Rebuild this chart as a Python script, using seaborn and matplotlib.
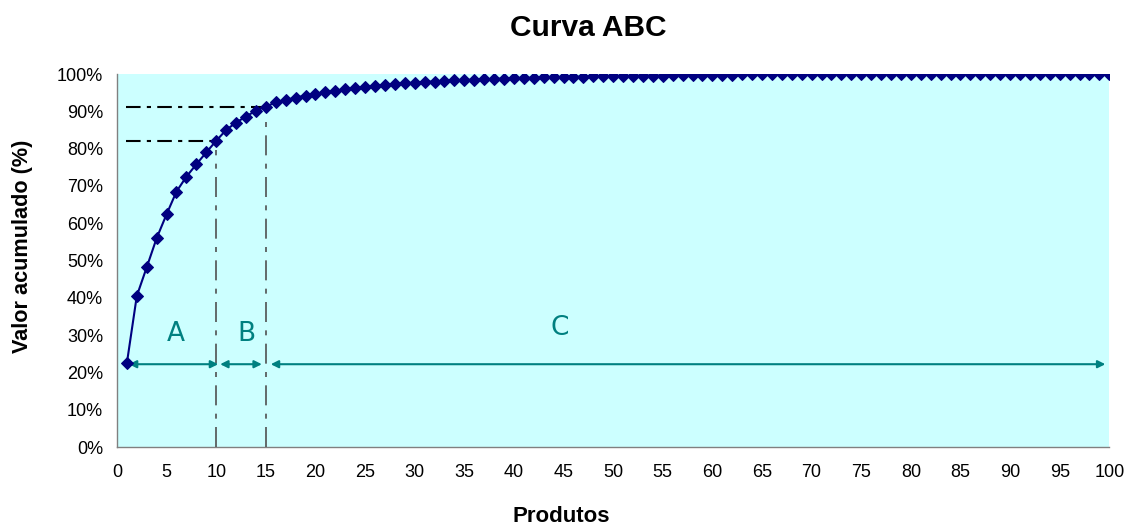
import matplotlib
matplotlib.use("Agg")
import matplotlib.pyplot as plt
import seaborn as sns
import numpy as np
import pandas as pd
from matplotlib.ticker import PercentFormatter, MultipleLocator

# ---- data ----
produtos = list(range(1, 101))
valor_acumulado = [
    22.5, 40.5, 48.2, 56.0, 62.4, 68.5, 72.5, 75.8, 79.0, 82.1,
    85.0, 87.0, 88.6, 90.2, 91.3, 92.4, 93.0, 93.7, 94.2, 94.7,
    95.1, 95.5, 95.9, 96.2, 96.5, 96.8, 97.1, 97.3, 97.5, 97.7,
    97.9, 98.0, 98.2, 98.3, 98.4, 98.5, 98.6, 98.7, 98.8, 98.9,
    99.0, 99.0, 99.1, 99.2, 99.2, 99.3, 99.3, 99.4, 99.4, 99.5,
    99.5, 99.5, 99.6, 99.6, 99.6, 99.7, 99.7, 99.7, 99.8, 99.8,
    99.8, 99.8, 99.9, 99.9, 99.9, 99.9, 99.9, 100.0, 100.0, 100.0,
    100.0, 100.0, 100.0, 100.0, 100.0, 100.0, 100.0, 100.0, 100.0, 100.0,
    100.0, 100.0, 100.0, 100.0, 100.0, 100.0, 100.0, 100.0, 100.0, 100.0,
    100.0, 100.0, 100.0, 100.0, 100.0, 100.0, 100.0, 100.0, 100.0, 100.0,
]
classes = ["A", "B", "C"]
class_limits = [10, 15]          # last product of class A and class B
title = "Curva ABC"
x_label = "Produtos"
y_label = "Valor acumulado (%)"

df = pd.DataFrame({"Produtos": produtos, "Valor": valor_acumulado})

sns.set_style("white")
plt.rcParams["font.family"] = ["Liberation Sans", "DejaVu Sans"]
plt.rcParams["text.color"] = "black"

fig = plt.figure(figsize=(11.3, 5.29), dpi=100)
ax = fig.add_axes([0.1035, 0.155, 0.9817 - 0.1035, 0.860 - 0.155])
ax.set_facecolor("#CCFFFF")

navy = "#000080"
teal = "#008080"

sns.lineplot(data=df, x="Produtos", y="Valor", ax=ax, color=navy, lw=1.5,
             marker="D", markersize=6.6, markeredgecolor=navy,
             markerfacecolor=navy, zorder=5)

ax.set_xlim(0, 100)
ax.set_ylim(0, 100)
ax.xaxis.set_major_locator(MultipleLocator(5))
ax.yaxis.set_major_locator(MultipleLocator(10))
ax.yaxis.set_major_formatter(PercentFormatter(decimals=0))

for s in ["top", "right"]:
    ax.spines[s].set_visible(False)
for s in ["left", "bottom"]:
    ax.spines[s].set_color("#808080")
    ax.spines[s].set_linewidth(1.0)
ax.tick_params(axis="both", which="major", direction="out", length=5,
               width=1, color="#808080", labelsize=13, labelcolor="black")
ax.tick_params(axis="x", pad=7)
ax.tick_params(axis="y", pad=5)
ax.set_xlabel("")
ax.set_ylabel("")

fig.text(588 / 1130, 1 - 28 / 529, title, fontsize=21.5, fontweight="bold",
         ha="center", va="center", color="black")
fig.text(561 / 1130, 1 - 517 / 529, x_label, fontsize=16, fontweight="bold",
         ha="center", va="center", color="black")
fig.text(23 / 1130, 1 - 246 / 529, y_label, fontsize=15.6, fontweight="bold",
         ha="center", va="center", rotation=90, color="black")

# reference lines at the class limits
v_y = [valor_acumulado[produtos.index(l)] for l in class_limits]
for lim, yv in zip(class_limits, v_y):
    ax.plot([lim, lim], [0, yv - 2.5], color="#505050", lw=1.2,
            dashes=(12, 5, 3, 5), zorder=3)
    ax.plot([produtos[0] - 0.1, lim], [yv, yv], color="black", lw=1.5,
            dashes=(7, 3, 2, 3), zorder=3)

# class arrows
arrow_y = valor_acumulado[0] - 0.3
bounds = [(produtos[0] + 0.2, class_limits[0] + 0.2),
          (class_limits[0] + 0.4, class_limits[1] - 0.4),
          (class_limits[1] + 0.5, produtos[-1] - 0.4)]
label_pos = [(5.9, 30.2), (13.0, 30.2), (44.6, 31.8)]
for (x0, x1), name, (lx, ly) in zip(bounds, classes, label_pos):
    ax.annotate("", xy=(x1, arrow_y), xytext=(x0, arrow_y),
                arrowprops=dict(arrowstyle="<|-|>", color=teal, lw=1.5,
                                mutation_scale=11, shrinkA=0, shrinkB=0),
                zorder=4)
    ax.text(lx, ly, name, color=teal, fontsize=19, ha="center", va="center",
            family="DejaVu Sans")

fig.savefig("out.png", dpi=100)
